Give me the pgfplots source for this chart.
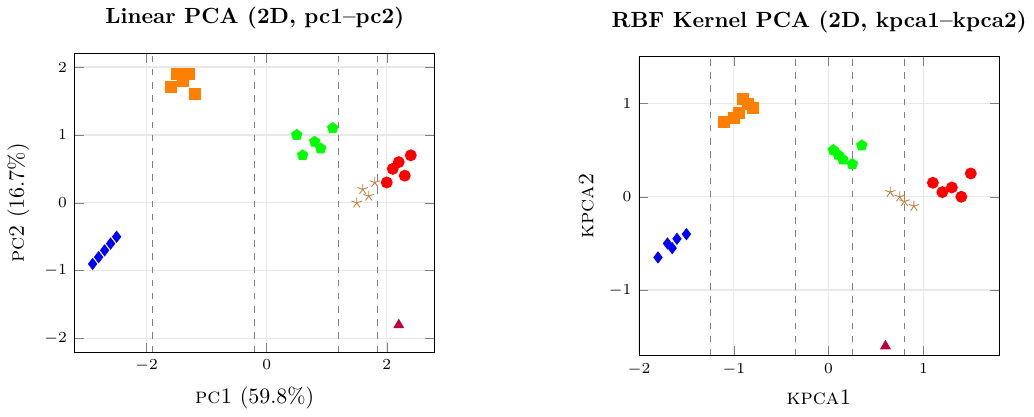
\documentclass[border=0pt]{standalone}
\usepackage{pgfplots}
\pgfplotsset{compat=1.18}

\pgfplotsset{
  pcastyle/.style={
    width=164pt, height=136pt, scale only axis,
    grid=major,
    grid style={gray!18, line width=0.6pt},
    tick style={gray},
    tick label style={font=\scriptsize},
    title style={font=\bfseries, yshift=1.5pt},
    label style={font=\normalsize},
  },
  pts/.style={only marks, mark size=2.5pt},
  sep/.style={sharp plot, mark=none, gray, dashed, thin, forget plot},
}

\begin{document}
\begin{tikzpicture}
% left: linear PCA
\begin{axis}[pcastyle,
    at={(0,0)}, anchor=south west,
    title={Linear PCA (2D, pc1--pc2)},
    xlabel={\textsc{pc1} (59.8\%)},
    ylabel={\textsc{pc2} (16.7\%)},
    xmin=-3.2, xmax=2.8, ymin=-2.2, ymax=2.2,
    xtick={-2,0,2}, ytick={-2,-1,0,1,2},
]
\addplot[sep] coordinates {(-1.9,-2.2) (-1.9,2.2)};
\addplot[sep] coordinates {(-0.2,-2.2) (-0.2,2.2)};
\addplot[sep] coordinates {(1.2,-2.2) (1.2,2.2)};
\addplot[sep] coordinates {(1.85,-2.2) (1.85,2.2)};
\addplot[pts, blue, mark=diamond*] coordinates {
  (-2.9,-0.9) (-2.8,-0.8) (-2.7,-0.7) (-2.6,-0.6) (-2.5,-0.5)};
\addplot[pts, orange, mark=square*] coordinates {
  (-1.6,1.7) (-1.5,1.9) (-1.4,1.8) (-1.3,1.9) (-1.2,1.6)};
\addplot[pts, green, mark=pentagon*] coordinates {
  (0.5,1.0) (0.6,0.7) (0.8,0.9) (0.9,0.8) (1.1,1.1)};
\addplot[pts, brown, mark=star] coordinates {
  (1.5,0.0) (1.6,0.2) (1.7,0.1) (1.8,0.3)};
\addplot[pts, red, mark=*] coordinates {
  (2.0,0.3) (2.1,0.5) (2.2,0.6) (2.3,0.4) (2.4,0.7)};
\addplot[pts, purple, mark=triangle*] coordinates {(2.2,-1.8)};
\end{axis}

% right: RBF kernel PCA
\begin{axis}[pcastyle,
    at={(257pt,-1.5pt)}, anchor=south west,
    title={RBF Kernel PCA (2D, kpca1--kpca2)},
    xlabel={\textsc{kpca1}},
    ylabel={\textsc{kpca2}},
    xmin=-2, xmax=1.8, ymin=-1.7, ymax=1.5,
    xtick={-2,-1,0,1}, ytick={-1,0,1},
]
\addplot[sep] coordinates {(-1.25,-1.7) (-1.25,1.5)};
\addplot[sep] coordinates {(-0.35,-1.7) (-0.35,1.5)};
\addplot[sep] coordinates {(0.25,-1.7) (0.25,1.5)};
\addplot[sep] coordinates {(0.8,-1.7) (0.8,1.5)};
\addplot[pts, blue, mark=diamond*] coordinates {
  (-1.8,-0.65) (-1.7,-0.5) (-1.65,-0.55) (-1.6,-0.45) (-1.5,-0.4)};
\addplot[pts, orange, mark=square*] coordinates {
  (-1.1,0.8) (-1.0,0.85) (-0.95,0.9) (-0.9,1.05) (-0.85,1.0) (-0.8,0.95)};
\addplot[pts, green, mark=pentagon*] coordinates {
  (0.05,0.5) (0.1,0.45) (0.15,0.4) (0.25,0.35) (0.35,0.55)};
\addplot[pts, brown, mark=star] coordinates {
  (0.65,0.05) (0.75,0.0) (0.8,-0.05) (0.9,-0.1)};
\addplot[pts, red, mark=*] coordinates {
  (1.1,0.15) (1.2,0.05) (1.3,0.1) (1.4,0.0) (1.5,0.25)};
\addplot[pts, purple, mark=triangle*] coordinates {(0.6,-1.6)};
\end{axis}
\end{tikzpicture}
\end{document}
